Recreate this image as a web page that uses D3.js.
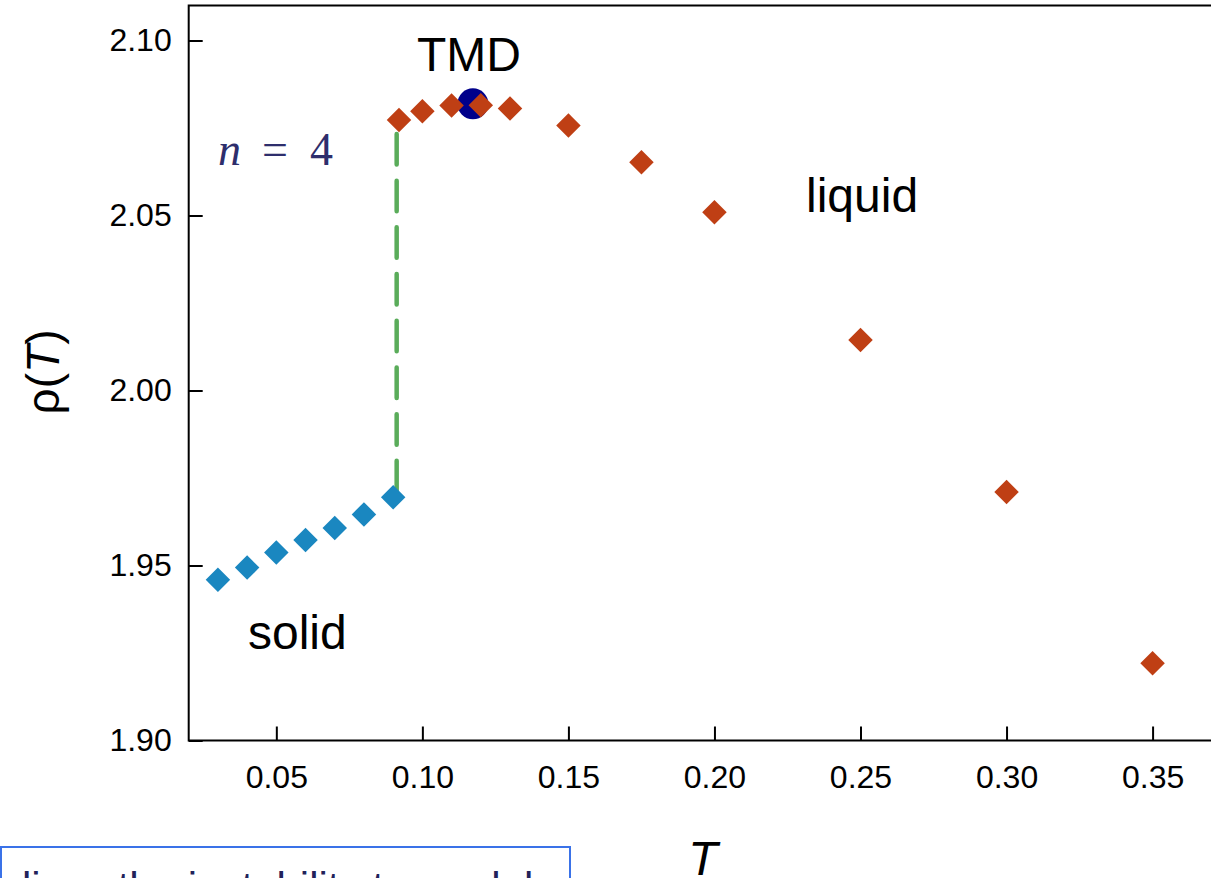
<!DOCTYPE html>
<html>
<head>
<meta charset="utf-8">
<script src="https://cdn.jsdelivr.net/npm/d3@7"></script>
<style>
  html, body { margin: 0; padding: 0; background: #fff; overflow: hidden; }
  svg { display: block; }
  text { font-family: "Liberation Sans", Arial, Helvetica, sans-serif; }
</style>
</head>
<body>
<svg id="chart" width="1211" height="878"></svg>
<script>
// ---- data ----
const solidT   = [0.03, 0.04, 0.05, 0.06, 0.07, 0.08, 0.09];
const solidRho = [1.9459, 1.9494, 1.9537, 1.9573, 1.9607, 1.9646, 1.9695];

const liquidT   = [0.092, 0.10, 0.11, 0.12, 0.13, 0.15, 0.175, 0.20, 0.25, 0.30, 0.35];
const liquidRho = [2.0773, 2.0798, 2.0814, 2.0815, 2.0806, 2.0757, 2.0652, 2.0509, 2.0144, 1.9710, 1.9221];

const tmdT = [0.1173];
const tmdRho = [2.0819];

const transitionT = [0.0912];
const transitionRho = [1.9695, 2.0733];

const xTicks = [0.05, 0.10, 0.15, 0.20, 0.25, 0.30, 0.35];
const yTicks = [1.90, 1.95, 2.00, 2.05, 2.10];
const xDomain = [0.02, 0.37];
const yDomain = [1.90, 2.11];

// ---- layout ----
const svg = d3.select("#chart");
const pLeft = 188.7, pRight = 1211, pTop = 5.5, pBottom = 740.5;

const x = d3.scaleLinear().domain(xDomain).range([pLeft, pRight]);
const y = d3.scaleLinear().domain(yDomain).range([pBottom, pTop]);

const blue = "#1a87c0", orange = "#bf3f14", navy = "#00008b", green = "#5aac5a";

// transition dashed line
svg.append("line")
  .attr("x1", x(transitionT[0])).attr("x2", x(transitionT[0]))
  .attr("y1", y(transitionRho[1])).attr("y2", y(transitionRho[0]))
  .attr("stroke", green).attr("stroke-width", 4.5)
  .attr("stroke-linecap", "round")
  .attr("stroke-dasharray", "30.5 16.2");

const diamond = d3.symbol().type(d3.symbolSquare).size(300);

// solid
svg.append("g").selectAll("path")
  .data(solidT.map((t, i) => [t, solidRho[i]]))
  .join("path")
  .attr("d", diamond)
  .attr("transform", d => `translate(${x(d[0])},${y(d[1])}) rotate(45)`)
  .attr("fill", blue);

// TMD marker
svg.append("g").selectAll("circle")
  .data(tmdT.map((t, i) => [t, tmdRho[i]]))
  .join("circle")
  .attr("cx", d => x(d[0])).attr("cy", d => y(d[1]))
  .attr("r", 15.5).attr("fill", navy);

// liquid
svg.append("g").selectAll("path")
  .data(liquidT.map((t, i) => [t, liquidRho[i]]))
  .join("path")
  .attr("d", diamond)
  .attr("transform", d => `translate(${x(d[0])},${y(d[1])}) rotate(45)`)
  .attr("fill", orange);

// axes
const xAxis = d3.axisBottom(x).tickValues(xTicks).tickSize(-14).tickPadding(25)
  .tickFormat(d3.format(".2f"));
const yAxis = d3.axisLeft(y).tickValues(yTicks).tickSize(-14).tickPadding(17)
  .tickFormat(d3.format(".2f"));

const gx = svg.append("g").attr("transform", `translate(0,${pBottom})`).call(xAxis);
const gy = svg.append("g").attr("transform", `translate(${pLeft},0)`).call(yAxis);
[gx, gy].forEach(g => {
  g.select(".domain").remove();
  g.selectAll(".tick line").attr("stroke", "#000").attr("stroke-width", 2);
  g.selectAll(".tick text").attr("fill", "#000")
    .style("font-size", "32px")
    .style("font-family", '"Liberation Sans", Arial, Helvetica, sans-serif');
});

// frame
svg.append("path")
  .attr("d", `M${pRight + 5},${pTop} L${pLeft},${pTop} L${pLeft},${pBottom} L${pRight + 5},${pBottom}`)
  .attr("fill", "none").attr("stroke", "#000").attr("stroke-width", 2);

// annotations
svg.append("text").attr("x", 469).attr("y", 71).attr("text-anchor", "middle")
  .style("font-size", "48px").attr("fill", "#000").text("TMD");
svg.append("text").attr("x", 806).attr("y", 212)
  .style("font-size", "48px").attr("fill", "#000").text("liquid");
svg.append("text").attr("x", 248).attr("y", 649)
  .style("font-size", "48px").attr("fill", "#000").text("solid");

const nCol = "#2e2e6c";
const serif = '"Liberation Serif", "DejaVu Serif", serif';
svg.append("text").attr("x", 218).attr("y", 165).attr("fill", nCol)
  .style("font-family", serif).style("font-style", "italic").style("font-size", "46px").text("n");
svg.append("text").attr("x", 262).attr("y", 165).attr("fill", nCol)
  .style("font-family", serif).style("font-size", "46px").text("=");
svg.append("text").attr("x", 310).attr("y", 165).attr("fill", nCol)
  .style("font-family", serif).style("font-size", "46px").text("4");

// axis titles
const yl = svg.append("text")
  .attr("transform", "translate(59,372) rotate(-90)")
  .attr("text-anchor", "middle").style("font-size", "46px").attr("fill", "#000");
yl.append("tspan").text("ρ(");
yl.append("tspan").style("font-style", "italic").text("T");
yl.append("tspan").text(")");

svg.append("text").attr("x", 703).attr("y", 875).attr("text-anchor", "middle")
  .style("font-size", "48px").style("font-style", "italic").attr("fill", "#000").text("T");

// overlapping caption box at bottom left
svg.append("rect").attr("x", 1).attr("y", 847).attr("width", 569).attr("height", 60)
  .attr("fill", "#fff").attr("stroke", "#3a72e8").attr("stroke-width", 2);
svg.append("text").attr("x", 22).attr("y", 902)
  .style("font-size", "42px").attr("fill", "#22225a")
  .text("lizes the instability to model");
</script>
</body>
</html>
